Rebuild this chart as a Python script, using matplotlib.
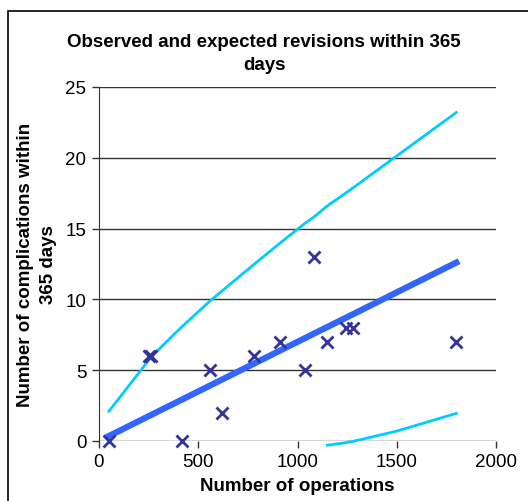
import matplotlib
matplotlib.use("Agg")
import matplotlib.pyplot as plt
from matplotlib.patches import Rectangle

plt.rcParams["font.family"] = ["Liberation Sans", "DejaVu Sans"]

# observed revisions per unit
operations = [50, 250, 260, 420, 560, 620, 783, 914, 1040, 1081, 1150, 1242, 1282, 1800]
observed = [0, 6, 6, 0, 5, 2, 6, 7, 5, 13, 7, 8, 8, 7]

# expected count and control limits
expected = [0.35, 1.75, 1.82, 2.94, 3.92, 4.34, 5.48, 6.4, 7.28, 7.57, 8.05, 8.69, 8.97, 12.6]
upper = [2.1, 5.7, 5.9, 8.1, 9.9, 10.6, 12.5, 14.0, 15.4, 15.8, 16.6, 17.5, 17.9, 23.2]
lower_ops = [1150, 1242, 1282, 1500, 1800]
lower = [-0.3, -0.12, -0.02, 0.7, 1.95]

x_ticks = [0, 500, 1000, 1500, 2000]
y_ticks = [0, 5, 10, 15, 20, 25]

fig = plt.figure(figsize=(5.28, 5.02), dpi=100)
ax = fig.add_axes([99 / 528, 1 - 442 / 502, 397 / 528, 354 / 502])

# chart frame, cropped at right and bottom like the original
fig.patches.append(Rectangle((8 / 528, -0.1), 1.2, 1 - 12 / 502 + 0.1,
                             transform=fig.transFigure, fill=False,
                             edgecolor="black", linewidth=1.2))

for y in y_ticks:
    ax.axhline(y, color="#333333", linewidth=1, zorder=1)

ax.plot(operations, upper, color="#00CCFF", linewidth=2, zorder=2)
ax.plot(lower_ops, lower, color="#00CCFF", linewidth=2, zorder=2, clip_on=False)
ax.plot(operations, expected, color="#3366FF", linewidth=4.5, zorder=3)
ax.plot(operations, observed, linestyle="none", marker="x", markersize=9,
        markeredgewidth=2, color="#333399", zorder=4, clip_on=False)

ax.set_xlim(0, 2000)
ax.set_ylim(0, 25)
ax.set_xticks(x_ticks)
ax.set_yticks(y_ticks)
ax.tick_params(labelsize=13.5, length=5, width=1, color="#333333", pad=4)
for side in ["top", "right"]:
    ax.spines[side].set_visible(False)
ax.spines["bottom"].set_visible(False)
ax.spines["left"].set_color("#333333")

fig.text(0.5, 1 - 54 / 502, "Observed and expected revisions within 365\ndays",
         ha="center", va="center", fontsize=13.5, fontweight="bold", linespacing=1.45)
fig.text(37 / 528, 1 - 265 / 502, "Number of complications within\n365 days",
         ha="center", va="center", rotation=90, fontsize=13.5,
         fontweight="bold", linespacing=1.4)
fig.text(297 / 528, 1 - 487 / 502, "Number of operations", ha="center",
         va="center", fontsize=13.5, fontweight="bold")

fig.savefig("out.png", dpi=100)
